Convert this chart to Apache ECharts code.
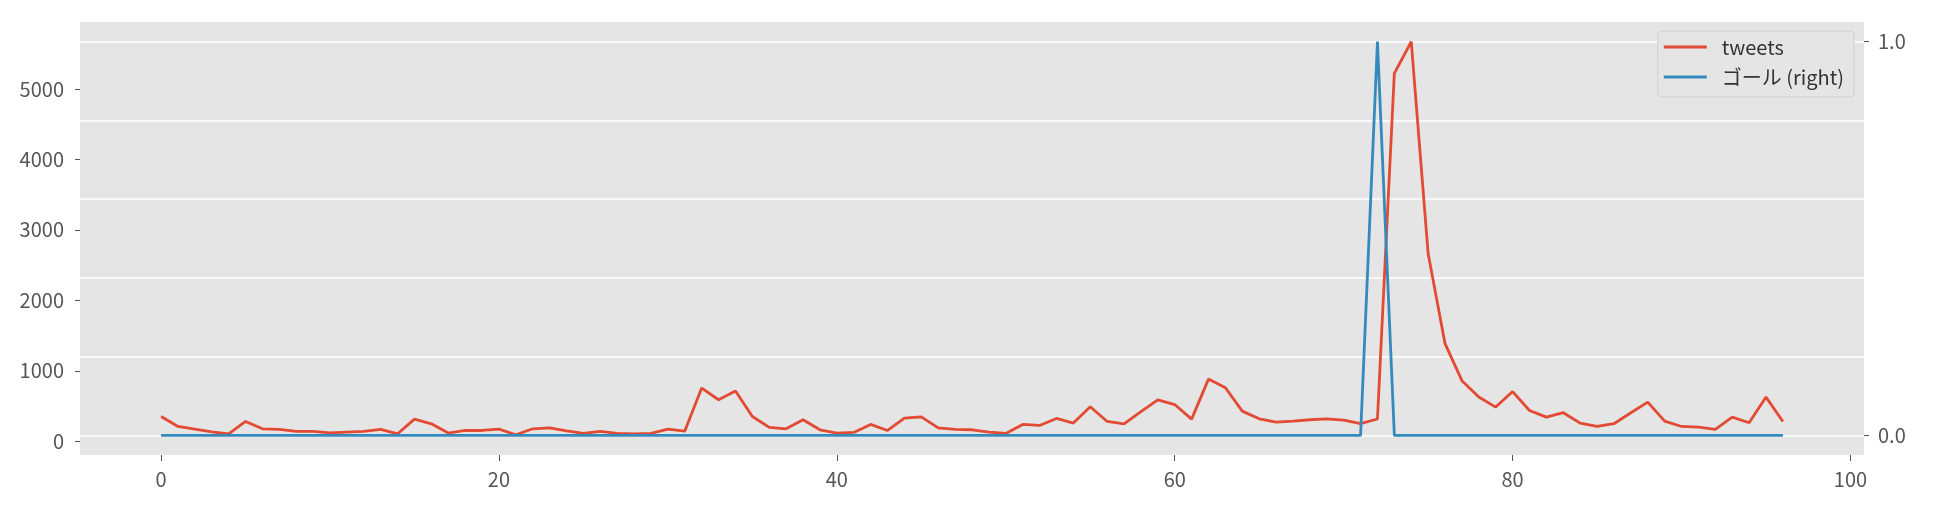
<!DOCTYPE html>
<html>
<head>
<meta charset="utf-8">
<script src="https://cdn.jsdelivr.net/npm/echarts@6/dist/echarts.min.js"></script>
<style>
html,body{margin:0;padding:0;background:#fff;}
#c{width:1936px;height:512px;}
</style>
</head>
<body>
<div id="c"></div>
<script>
// ---- data ----
const tweets = [352,210,172,134,106,281,177,168,139,139,120,130,139,168,106,314,248,116,153,153,
  172,92,177,191,149,111,139,111,106,111,172,144,755,589,712,352,196,177,305,163,
  116,125,239,153,328,347,191,168,163,130,111,239,224,324,258,489,281,248,420,587,
  521,314,882,759,428,319,272,286,305,319,300,250,316,5222,5670,2664,1385,860,627,485,
  705,437,343,405,258,210,249,405,556,286,210,200,168,343,263,627,281];
const goal = [0,0,0,0,0,0,0,0,0,0,0,0,0,0,0,0,0,0,0,0,
  0,0,0,0,0,0,0,0,0,0,0,0,0,0,0,0,0,0,0,0,
  0,0,0,0,0,0,0,0,0,0,0,0,0,0,0,0,0,0,0,0,
  0,0,0,0,0,0,0,0,0,0,0,0,1,0,0,0,0,0,0,0,
  0,0,0,0,0,0,0,0,0,0,0,0,0,0,0,0,0];
const xTicks = [0,20,40,60,80,100];
const leftTicks = [0,1000,2000,3000,4000,5000];
const rightTicks = [0,1];
const rightGrid = [0,0.2,0.4,0.6,0.8,1.0];
const seriesNames = ['tweets','ゴール (right)'];

const font = "'Noto Sans CJK JP','Noto Sans',sans-serif";
const chart = echarts.init(document.getElementById('c'), null, {renderer:'canvas'});
const tickStyle = {color:'#555555', width:1};
chart.setOption({
  animation:false,
  textStyle:{fontFamily:font},
  grid:{left:80,right:72,top:22,bottom:57,show:true,backgroundColor:'#E5E5E5',borderWidth:0,containLabel:false},
  legend:{
    data:seriesNames, orient:'vertical', right:82, top:31,
    padding:[6,10,10,6], itemWidth:43, itemHeight:3, itemGap:10, icon:'rect',
    backgroundColor:'#E5E5E5', borderColor:'#CFCFCF', borderWidth:1, borderRadius:4,
    textStyle:{fontSize:20, lineHeight:20, color:'#333333', fontFamily:font, padding:[0,0,0,10]}
  },
  xAxis:{
    type:'value', min:-4.8, max:100.8,
    axisLine:{show:false, onZero:false},
    axisTick:{show:true, length:6, lineStyle:tickStyle, customValues:xTicks},
    axisLabel:{customValues:xTicks, color:'#555555', fontSize:20, margin:14, fontFamily:font,
      formatter:v=>String(v)},
    splitLine:{show:false}
  },
  yAxis:[
    {
      type:'value', position:'left', min:-195, max:5950,
      axisLine:{show:false, onZero:false},
      axisTick:{show:true, length:5, lineStyle:tickStyle, customValues:leftTicks},
      axisLabel:{customValues:leftTicks, color:'#555555', fontSize:20, margin:16, fontFamily:font,
        formatter:v=>String(v)},
      splitLine:{show:false}
    },
    {
      type:'value', position:'right', min:-0.05, max:1.05,
      axisLine:{show:false, onZero:false},
      axisTick:{show:true, length:5, lineStyle:tickStyle, customValues:rightTicks},
      axisLabel:{customValues:rightTicks, color:'#555555', fontSize:20, margin:14, fontFamily:font,
        formatter:v=>Number(v).toFixed(1)},
      splitLine:{show:false}
    },
    {
      type:'value', position:'right', min:-0.05, max:1.05,
      axisLine:{show:false, onZero:false},
      axisTick:{show:false, customValues:rightGrid},
      axisLabel:{show:false},
      splitLine:{show:true, lineStyle:{color:'#FFFFFF', width:1.5}}
    }
  ],
  series:[
    {
      name:seriesNames[0], type:'line', yAxisIndex:0, symbol:'none', showSymbol:false,
      color:'#E24A33', lineStyle:{width:2.8, color:'#E24A33'},
      data:tweets.map((v,i)=>[i,v]), z:3
    },
    {
      name:seriesNames[1], type:'line', yAxisIndex:1, symbol:'none', showSymbol:false,
      color:'#348ABD', lineStyle:{width:2.8, color:'#348ABD'},
      data:goal.map((v,i)=>[i,v]), z:4
    }
  ]
});
</script>
</body>
</html>
